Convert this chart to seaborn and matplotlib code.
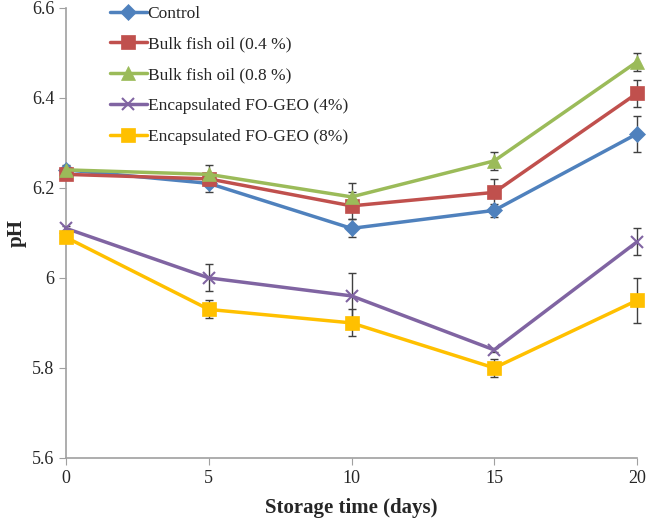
import matplotlib
matplotlib.use("Agg")
import matplotlib.pyplot as plt
import seaborn as sns
import pandas as pd

days = [0, 5, 10, 15, 20]
series_names = [
    "Control",
    "Bulk fish oil (0.4 %)",
    "Bulk fish oil (0.8 %)",
    "Encapsulated FO-GEO (4%)",
    "Encapsulated FO-GEO (8%)",
]
control = [6.24, 6.21, 6.11, 6.15, 6.32]
bulk_04 = [6.23, 6.22, 6.16, 6.19, 6.41]
bulk_08 = [6.24, 6.23, 6.18, 6.26, 6.48]
enc_4 = [6.11, 6.00, 5.96, 5.84, 6.08]
enc_8 = [6.09, 5.93, 5.90, 5.80, 5.95]

control_err = [0.01, 0.02, 0.02, 0.015, 0.04]
bulk_04_err = [0.01, 0.01, 0.03, 0.03, 0.03]
bulk_08_err = [0.005, 0.02, 0.03, 0.02, 0.02]
enc_4_err = [0.005, 0.03, 0.05, 0.005, 0.03]
enc_8_err = [0.005, 0.02, 0.03, 0.02, 0.05]

colors = ["#4F81BD", "#C0504D", "#9BBB59", "#8064A2", "#FFC000"]
markers = ["D", "s", "^", "x", "s"]
msizes = [8, 10, 10, 9, 10]

values = [control, bulk_04, bulk_08, enc_4, enc_8]
errors = [control_err, bulk_04_err, bulk_08_err, enc_4_err, enc_8_err]

rows = []
for name, vals, errs in zip(series_names, values, errors):
    for d, v, e in zip(days, vals, errs):
        rows.append({"day": d, "pH": v, "err": e, "group": name})
df = pd.DataFrame(rows)

sns.set_style("white")
plt.rcParams["font.family"] = ["Liberation Serif", "DejaVu Serif"]

fig = plt.figure(figsize=(6.48, 5.21), dpi=100)
ax = fig.add_axes([0.102, 0.121, 0.881, 0.864])

for name, c, m, ms in zip(series_names, colors, markers, msizes):
    sub = df[df["group"] == name]
    ax.errorbar(sub["day"], sub["pH"], yerr=sub["err"], fmt="none",
                ecolor="#404040", elinewidth=1, capsize=3, capthick=1, zorder=2)
    sns.lineplot(data=sub, x="day", y="pH", color=c, marker=m, markersize=ms,
                 markeredgecolor=c, markeredgewidth=1.5 if m == "x" else 0.5,
                 linewidth=2.5, label=name, ax=ax, zorder=3)

ax.set_xlim(0, 20)
ax.set_ylim(5.6, 6.6)
ax.set_xticks(days)
ax.set_yticks([5.6, 5.8, 6.0, 6.2, 6.4, 6.6])
ax.set_yticklabels(["5.6", "5.8", "6", "6.2", "6.4", "6.6"])
ax.tick_params(axis="both", labelsize=13, length=5, color="#A0A0A0",
               direction="out", left=True, bottom=True)
for side in ["top", "right"]:
    ax.spines[side].set_visible(False)
for side in ["left", "bottom"]:
    ax.spines[side].set_color("#A0A0A0")
    ax.spines[side].set_linewidth(1.2)

ax.set_xlabel("Storage time (days)", fontsize=15, fontweight="bold", labelpad=8)
ax.set_ylabel("pH", fontsize=15, fontweight="bold")

leg = ax.legend(loc="upper left", bbox_to_anchor=(0.05, 1.04), frameon=False,
                fontsize=12.5, handlelength=2.1, labelspacing=0.85, handletextpad=0.05)
for a in ax.get_children():
    if hasattr(a, "set_clip_on"):
        a.set_clip_on(False)

fig.savefig("out.png", dpi=100)
